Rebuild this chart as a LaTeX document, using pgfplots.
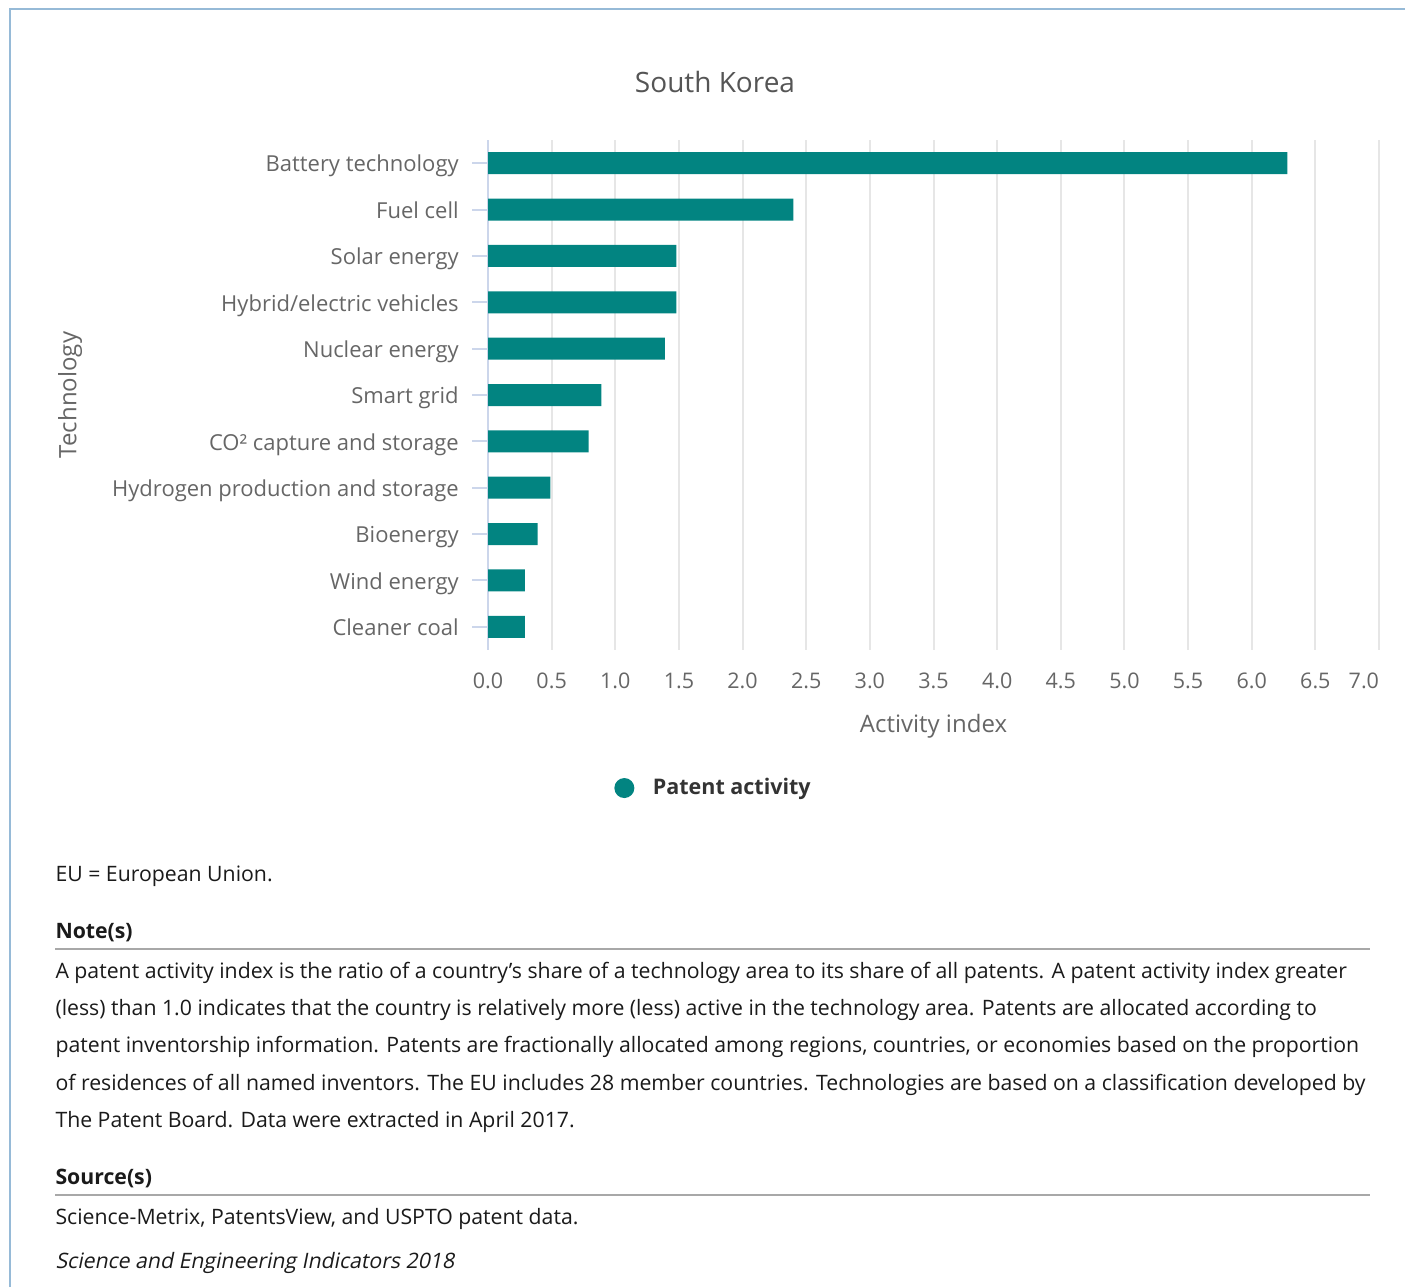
\documentclass[border=0pt]{standalone}
\usepackage{pgfplots}
\pgfplotsset{compat=1.18}
\usepackage{fontspec}
\setmainfont{Open Sans}
\newfontfamily\slantfont{Open Sans}[FakeSlant=0.2]
\definecolor{barcol}{HTML}{028481}
\definecolor{gridcol}{HTML}{E6E6E6}
\definecolor{axiscol}{HTML}{CCD6EB}
\definecolor{labcol}{HTML}{666666}
\definecolor{titlecol}{HTML}{555555}
\definecolor{legcol}{HTML}{333333}
\definecolor{framecol}{HTML}{96BAD7}
\definecolor{rulecol}{HTML}{A8A8A8}
\definecolor{bodycol}{HTML}{1A1A1A}
\begin{document}
\begin{tikzpicture}
\begin{scope}[x=0.4pt,y=-0.4pt]
\useasboundingbox (0,0) rectangle (1405,1287);
\draw[framecol, line width=0.8pt] (10,1287) -- (10,9) -- (1405,9);
\node[anchor=center, text=titlecol, font=\fontsize{11.2}{13}\selectfont] at (715,82) {South Korea};
\end{scope}
\begin{axis}[
  at={(488*0.4pt,-650*0.4pt)}, anchor=south west,
  scale only axis, width=356.4pt, height=204pt,
  xmin=0, xmax=7, ymin=-0.5, ymax=10.5, y dir=reverse,
  xtick={0,0.5,...,7}, ytick={0,...,10},
  xticklabels={0.0,0.5,1.0,1.5,2.0,2.5,3.0,3.5,4.0,4.5,5.0,5.5,6.0,6.5,\llap{7.0}},
  yticklabels={Battery technology,Fuel cell,Solar energy,Hybrid/electric vehicles,Nuclear energy,Smart grid,CO² capture and storage,Hydrogen production and storage,Bioenergy,Wind energy,Cleaner coal},
  /pgf/number format/assume math mode=true,
  axis x line*=bottom, axis y line*=left,
  x axis line style={draw=none},
  y axis line style={draw=axiscol, line width=0.8pt},
  xmajorgrids, grid style={gridcol, line width=0.8pt},
  tick align=outside, major tick length=6.4pt,
  x tick style={draw=none},
  y tick style={draw=axiscol, line width=0.8pt},
  ticklabel style={font=\fontsize{8.6}{10}\selectfont, text=labcol},
  typeset ticklabels with strut,
  xticklabel style={yshift=1.6pt},
  yticklabel style={xshift=-1.8pt, yshift=-1.5pt, font=\fontsize{8.8}{10}\selectfont},
  xlabel={Activity index},
  xlabel style={at={(axis description cs:0.5,-0.1431)}, anchor=center, yshift=-1.2pt, font=\fontsize{9.6}{11}\selectfont, text=labcol},
  ylabel={Technology},
  ylabel style={at={(axis description cs:-0.4691,0.5)}, anchor=center, font=\fontsize{9.6}{11}\selectfont, text=labcol},
  legend style={at={(axis description cs:0.2548,-0.2706)}, anchor=center, draw=none, fill=none, font=\bfseries\fontsize{8.6}{11}\selectfont, text=legcol},
  legend image code/.code={\fill[barcol] (0pt,0pt) circle (4pt); \path (9.4pt,0pt);},
  legend cell align=left,
]
\addplot[xbar, bar width=8.8pt, bar shift=0pt, fill=barcol, draw=none] coordinates {
(6.28,0) (2.40,1) (1.48,2) (1.48,3) (1.39,4) (0.89,5) (0.79,6) (0.49,7) (0.39,8) (0.29,9) (0.29,10)};
\addlegendentry{Patent activity}
\end{axis}
\begin{scope}[x=0.4pt,y=-0.4pt, every node/.style={anchor=base west, inner sep=0pt, text=bodycol, font=\fontsize{8.5}{10}\selectfont}]
\node at (55,881) {EU = European Union.};
\node[font=\bfseries\fontsize{8.5}{10}\selectfont] at (55,938) {Note(s)};
\draw[rulecol, line width=0.8pt] (55,949) -- (1370,949);
\node at (55,978) {A patent activity index is the ratio of a country’s share of a technology area to its share of all patents. A patent activity index greater};
\node at (55,1015) {(less) than 1.0 indicates that the country is relatively more (less) active in the technology area. Patents are allocated according to};
\node at (55,1052) {patent inventorship information. Patents are fractionally allocated among regions, countries, or economies based on the proportion};
\node at (55,1090) {of residences of all named inventors. The EU includes 28 member countries. Technologies are based on a classification developed by};
\node at (55,1127) {The Patent Board. Data were extracted in April 2017.};
\node[font=\bfseries\fontsize{8.5}{10}\selectfont] at (55,1184) {Source(s)};
\draw[rulecol, line width=0.8pt] (55,1195) -- (1370,1195);
\node at (55,1224) {Science-Metrix, PatentsView, and USPTO patent data.};
\node[font=\slantfont\fontsize{8.5}{10}\selectfont] at (55,1268) {Science and Engineering Indicators 2018};
\end{scope}
\end{tikzpicture}
\end{document}
